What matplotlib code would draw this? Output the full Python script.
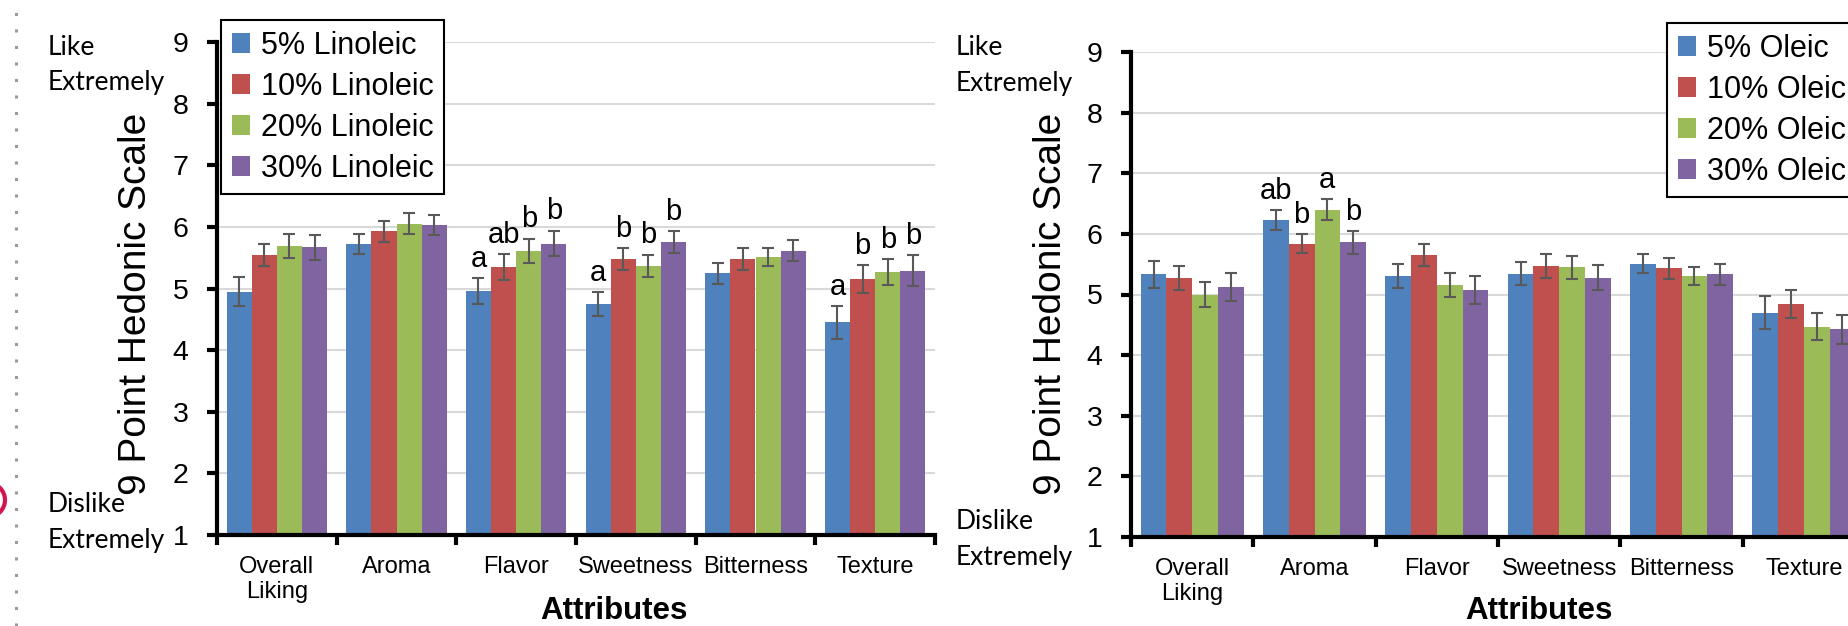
"""Sensory panel: 9-point hedonic ratings for linoleic and oleic formulations.

Two side-by-side grouped bar panels with SE bars and significance letters.
Writes out.png.
"""
import matplotlib

matplotlib.use("Agg")
import matplotlib.pyplot as plt  # noqa: E402
import numpy as np  # noqa: E402
from matplotlib.lines import Line2D  # noqa: E402
from matplotlib.patches import Ellipse  # noqa: E402

CATEGORIES = ["Overall\nLiking", "Aroma", "Flavor", "Sweetness", "Bitterness", "Texture"]
COLORS = ["#4F81BD", "#C0504D", "#9BBB59", "#8064A2"]
Y_TICKS = [1, 2, 3, 4, 5, 6, 7, 8, 9]

LINOLEIC_LABELS = ["5% Linoleic", "10% Linoleic", "20% Linoleic", "30% Linoleic"]
LINOLEIC_MEANS = [
    [4.95, 5.72, 4.96, 4.75, 5.25, 4.45],
    [5.54, 5.93, 5.35, 5.48, 5.48, 5.15],
    [5.69, 6.05, 5.61, 5.37, 5.51, 5.27],
    [5.67, 6.03, 5.73, 5.75, 5.61, 5.29],
]
LINOLEIC_ERRS = [
    [0.24, 0.16, 0.21, 0.19, 0.17, 0.27],
    [0.18, 0.17, 0.21, 0.18, 0.18, 0.23],
    [0.20, 0.17, 0.20, 0.18, 0.15, 0.21],
    [0.20, 0.16, 0.21, 0.18, 0.17, 0.25],
]
LINOLEIC_LETTERS = [
    ["", "", "a", "a", "", "a"],
    ["", "", "ab", "b", "", "b"],
    ["", "", "b", "b", "", "b"],
    ["", "", "b", "b", "", "b"],
]

OLEIC_LABELS = ["5% Oleic", "10% Oleic", "20% Oleic", "30% Oleic"]
OLEIC_MEANS = [
    [5.33, 6.23, 5.30, 5.34, 5.51, 4.70],
    [5.27, 5.84, 5.65, 5.47, 5.43, 4.85],
    [5.00, 6.40, 5.16, 5.45, 5.30, 4.47],
    [5.12, 5.86, 5.08, 5.28, 5.33, 4.43],
]
OLEIC_ERRS = [
    [0.23, 0.17, 0.20, 0.19, 0.16, 0.27],
    [0.20, 0.16, 0.18, 0.19, 0.17, 0.23],
    [0.21, 0.17, 0.20, 0.19, 0.15, 0.22],
    [0.23, 0.19, 0.23, 0.20, 0.18, 0.24],
]
OLEIC_LETTERS = [
    ["", "ab", "", "", "", ""],
    ["", "b", "", "", "", ""],
    ["", "a", "", "", "", ""],
    ["", "b", "", "", "", ""],
]

W, H = 1848, 626
SANS = "Liberation Sans"
SIDE = "Lato"  # stand-in for Calibri on the "Like/Dislike Extremely" notes

plt.rcParams["font.family"] = [SANS, "DejaVu Sans"]


def fx(px):
    return px / W


def fy(py):
    return 1 - py / H


def draw_panel(ax, labels, means, errs, letters):
    x = np.arange(len(CATEGORIES))
    n = len(labels)
    width = 0.21
    for i in range(n):
        xs = x + (i - (n - 1) / 2) * width
        ax.bar(xs, means[i], width, color=COLORS[i], label=labels[i], zorder=2)
        ax.errorbar(xs, means[i], yerr=errs[i], fmt="none", ecolor="#595959",
                    elinewidth=1.5, capsize=4.5, capthick=1.5, zorder=3)
        for xi, m, e, t in zip(xs, means[i], errs[i], letters[i]):
            if t:
                ax.annotate(t, (xi, m + e), xytext=(0, 8), textcoords="offset points",
                            ha="center", va="baseline", fontsize=21)
    ax.set_xlim(-0.5, len(CATEGORIES) - 0.5)
    ax.set_ylim(1, 9)
    ax.set_yticks(Y_TICKS)
    ax.tick_params(axis="y", direction="out", length=7, width=3, pad=13.5, labelsize=20.5)
    ax.set_xticks(x, CATEGORIES)
    ax.set_xticks(np.arange(-0.5, len(CATEGORIES)), minor=True)
    ax.tick_params(axis="x", which="major", length=0, pad=15, labelsize=17)
    ax.tick_params(axis="x", which="minor", direction="out", length=7, width=3)
    ax.yaxis.grid(True, color="#d9d9d9", lw=1.5)
    ax.set_axisbelow(True)
    for side in ("top", "right"):
        ax.spines[side].set_visible(False)
    for side in ("left", "bottom"):
        ax.spines[side].set_linewidth(3)


def add_legend(ax, fig, left, top):
    leg = ax.legend(loc="upper left", bbox_to_anchor=(fx(left), fy(top)),
                    bbox_transform=fig.transFigure, borderaxespad=0, fontsize=22,
                    frameon=True, fancybox=False, handlelength=0.6, handleheight=0.6,
                    handletextpad=0.35, labelspacing=0.36, borderpad=0.35)
    leg.get_frame().set_edgecolor("black")
    leg.get_frame().set_linewidth(1.5)
    leg.get_frame().set_alpha(1)


def side_notes(fig, left, like_y, dislike_y):
    kw = dict(fontsize=19, family=[SIDE, "DejaVu Sans"], va="baseline", ha="left")
    fig.text(fx(left), fy(like_y[0]), "Like", **kw)
    fig.text(fx(left), fy(like_y[1]), "Extremely", **kw)
    fig.text(fx(left), fy(dislike_y[0]), "Dislike", **kw)
    fig.text(fx(left), fy(dislike_y[1]), "Extremely", **kw)


fig = plt.figure(figsize=(W / 100, H / 100), dpi=100)

ax1 = fig.add_axes([fx(217), fy(535), fx(935 - 217), (535 - 42) / H])
draw_panel(ax1, LINOLEIC_LABELS, LINOLEIC_MEANS, LINOLEIC_ERRS, LINOLEIC_LETTERS)
add_legend(ax1, fig, 221, 20)

# right panel runs past the right edge of the canvas, as in the source slide
ax2 = fig.add_axes([fx(1131), fy(537), fx(1865 - 1131), (537 - 52) / H])
draw_panel(ax2, OLEIC_LABELS, OLEIC_MEANS, OLEIC_ERRS, OLEIC_LETTERS)
add_legend(ax2, fig, 1667, 23)

for xc in (136, 1051):
    fig.text(fx(xc), fy(304), "9 Point Hedonic Scale", rotation=90,
             ha="center", va="center", fontsize=28)

fig.text(fx(614), fy(619), "Attributes", ha="center", va="baseline",
         fontsize=22.5, fontweight="bold")
fig.text(fx(1539), fy(619), "Attributes", ha="center", va="baseline",
         fontsize=22.5, fontweight="bold")

side_notes(fig, 48, (55, 90), (512, 548))
side_notes(fig, 956, (55, 91), (529, 565))

# slide decorations at the left edge: dotted guide and a clipped red ring
fig.add_artist(Line2D([fx(16), fx(16)], [0, 1], transform=fig.transFigure,
                      color="#9a9a9a", lw=2.2, dashes=(1, 4.4), dash_capstyle="butt"))
fig.add_artist(Ellipse((fx(-12), fy(500)), fx(34), 34 / H, transform=fig.transFigure,
                       fill=False, edgecolor="#d4164c", lw=3))

fig.savefig("out.png", dpi=100)
